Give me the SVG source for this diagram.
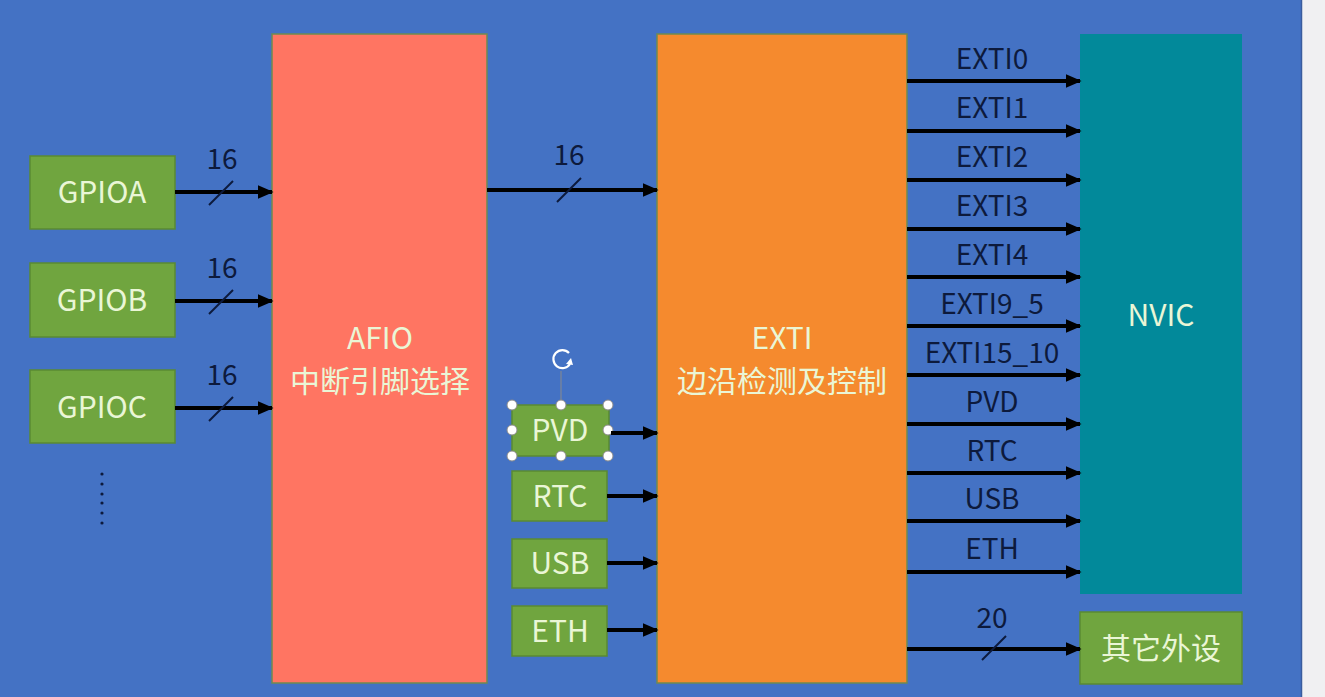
<svg xmlns="http://www.w3.org/2000/svg" width="1325" height="697" viewBox="0 0 1325 697">
<style>
.t{font-family:"Noto Sans CJK SC","Liberation Sans",sans-serif;text-anchor:middle;}
.nt{fill:#EAF6D6;font-size:30px;}
.lt{fill:#0D1A3C;font-size:28px;}
.g{fill:#70A53F;stroke:#5A8A33;stroke-width:1.5;}
.w{stroke:#000;stroke-width:4;fill:none;marker-end:url(#ah);}
.sl{stroke:#0D1A3C;stroke-width:2;}
.h{fill:#fff;stroke:#8a8a8a;stroke-width:1;}
</style>
<defs>
<marker id="ah" markerWidth="4" markerHeight="4" refX="3.6" refY="2" orient="auto" markerUnits="strokeWidth" viewBox="0 0 4 4">
<path d="M0,0.3 L4,2 L0,3.7 Z" fill="#000"/>
</marker>
</defs>
<rect x="0" y="0" width="1325" height="697" fill="#4472C4"/>
<rect x="1302" y="0" width="23" height="697" fill="#F0F0F2"/>
<line x1="1301.5" y1="0" x2="1301.5" y2="697" stroke="#3A5C9E" stroke-width="1.5"/>

<g id="afio"><rect x="272" y="34" width="215" height="649" fill="#FF7562" stroke="#6E8A52" stroke-width="1.5"/>
<text class="t nt" x="380" y="349">AFIO</text><text class="t nt" x="380" y="392">中断引脚选择</text></g>
<g id="exti"><rect x="657" y="34" width="250" height="649" fill="#F58A2E" stroke="#6E8A52" stroke-width="1.5"/>
<text class="t nt" x="782" y="349">EXTI</text><text class="t nt" x="782" y="392">边沿检测及控制</text></g>
<g id="nvic"><rect x="1080" y="34" width="162" height="560" fill="#02899A"/>
<text class="t nt" x="1161" y="326">NVIC</text></g>
<g id="other"><rect x="1080" y="612" width="162" height="72" class="g"/>
<text class="t nt" x="1161" y="659">其它外设</text></g>

<g id="gpioa"><rect x="30" y="156" width="145" height="73" class="g"/><text class="t nt" x="102" y="203">GPIOA</text></g>
<g id="gpiob"><rect x="30" y="263" width="145" height="74" class="g"/><text class="t nt" x="102" y="311">GPIOB</text></g>
<g id="gpioc"><rect x="30" y="370" width="145" height="73" class="g"/><text class="t nt" x="102" y="418">GPIOC</text></g>
<g id="dots" fill="#0D1A3C"><circle cx="102" cy="474" r="1.6"/><circle cx="102" cy="484" r="1.6"/><circle cx="102" cy="494" r="1.6"/><circle cx="102" cy="503" r="1.6"/><circle cx="102" cy="513" r="1.6"/><circle cx="102" cy="523" r="1.6"/></g>

<g id="pvd"><rect x="512" y="405" width="97" height="51" class="g"/><text class="t nt" x="560" y="441">PVD</text></g>
<g id="rtc"><rect x="512" y="471" width="95" height="50" class="g"/><text class="t nt" x="560" y="507">RTC</text></g>
<g id="usb"><rect x="512" y="539" width="95" height="49" class="g"/><text class="t nt" x="560" y="574">USB</text></g>
<g id="eth"><rect x="512" y="606" width="95" height="50" class="g"/><text class="t nt" x="560" y="642">ETH</text></g>

<g id="selection">
<line x1="561" y1="371" x2="561" y2="405" stroke="#8a8a8a" stroke-width="1"/>
<path d="M569,353 A9,9 0 1 0 570,364" fill="none" stroke="#fff" stroke-width="2.2"/>
<path d="M566,364 L573,365 L571,358 Z" fill="#fff"/>
<circle class="h" cx="512" cy="405" r="5"/><circle class="h" cx="561" cy="405" r="5"/><circle class="h" cx="608" cy="405" r="5"/>
<circle class="h" cx="512" cy="430" r="5"/><circle class="h" cx="608" cy="430" r="5"/>
<circle class="h" cx="512" cy="456" r="5"/><circle class="h" cx="561" cy="456" r="5"/><circle class="h" cx="608" cy="456" r="5"/>
</g>

<g id="connectors">
<line class="w" x1="175" y1="192" x2="272" y2="192"/>
<line class="w" x1="175" y1="301" x2="272" y2="301"/>
<line class="w" x1="175" y1="408" x2="272" y2="408"/>
<line class="w" x1="487" y1="190" x2="657" y2="190"/>
<line class="w" x1="611" y1="433" x2="657" y2="433"/>
<line class="w" x1="607" y1="496" x2="657" y2="496"/>
<line class="w" x1="607" y1="563" x2="657" y2="563"/>
<line class="w" x1="607" y1="630" x2="657" y2="630"/>
<line class="w" x1="907" y1="81" x2="1080" y2="81"/>
<line class="w" x1="907" y1="131" x2="1080" y2="131"/>
<line class="w" x1="907" y1="180" x2="1080" y2="180"/>
<line class="w" x1="907" y1="229" x2="1080" y2="229"/>
<line class="w" x1="907" y1="277" x2="1080" y2="277"/>
<line class="w" x1="907" y1="326" x2="1080" y2="326"/>
<line class="w" x1="907" y1="375" x2="1080" y2="375"/>
<line class="w" x1="907" y1="424" x2="1080" y2="424"/>
<line class="w" x1="907" y1="473" x2="1080" y2="473"/>
<line class="w" x1="907" y1="521" x2="1080" y2="521"/>
<line class="w" x1="907" y1="572" x2="1080" y2="572"/>
<line class="w" x1="907" y1="649" x2="1080" y2="649"/>
<line class="sl" x1="209" y1="205" x2="233" y2="181"/>
<line class="sl" x1="209" y1="314" x2="233" y2="290"/>
<line class="sl" x1="209" y1="421" x2="233" y2="397"/>
<line class="sl" x1="557" y1="202" x2="581" y2="178"/>
<line class="sl" x1="982" y1="660" x2="1006" y2="636"/>
<text class="t lt" x="222" y="169">16</text>
<text class="t lt" x="222" y="278">16</text>
<text class="t lt" x="222" y="385">16</text>
<text class="t lt" x="569" y="165">16</text>
<text class="t lt" x="992" y="628">20</text>
<text class="t lt" x="992" y="69">EXTI0</text>
<text class="t lt" x="992" y="118">EXTI1</text>
<text class="t lt" x="992" y="167">EXTI2</text>
<text class="t lt" x="992" y="216">EXTI3</text>
<text class="t lt" x="992" y="265">EXTI4</text>
<text class="t lt" x="992" y="314">EXTI9_5</text>
<text class="t lt" x="992" y="363">EXTI15_10</text>
<text class="t lt" x="992" y="412">PVD</text>
<text class="t lt" x="992" y="461">RTC</text>
<text class="t lt" x="992" y="509">USB</text>
<text class="t lt" x="992" y="559">ETH</text>
</g>
</svg>
